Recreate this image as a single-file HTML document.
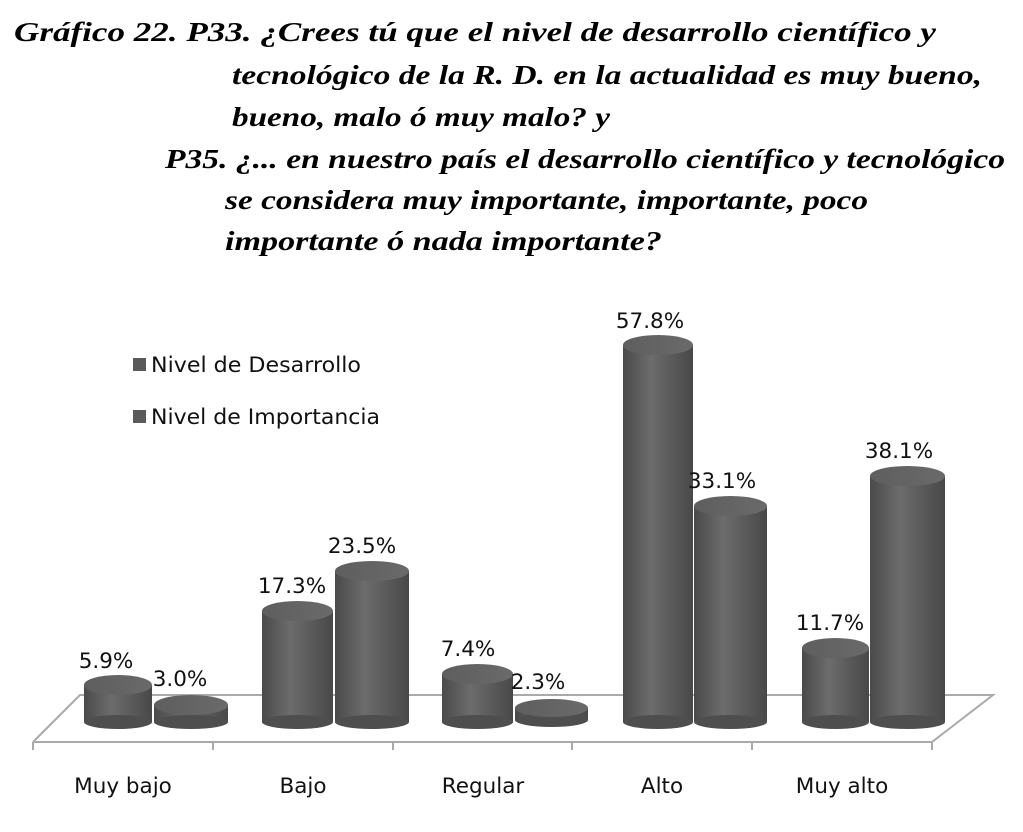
<!DOCTYPE html>
<html><head><meta charset="utf-8"><style>
html,body{margin:0;padding:0;background:#fff;}
svg{display:block;}
.t{font-family:"Liberation Serif",serif;font-weight:bold;font-style:italic;font-size:27px;fill:#000;}
.s{font-family:"DejaVu Sans","Liberation Sans",sans-serif;font-size:21.5px;fill:#111;}
</style></head><body>
<svg width="1023" height="832" viewBox="0 0 1023 832" xmlns="http://www.w3.org/2000/svg">
<defs>
<linearGradient id="g" x1="0" x2="1" y1="0" y2="0">
<stop offset="0" stop-color="#4a4a4a"/><stop offset="0.4" stop-color="#6c6c6c"/><stop offset="1" stop-color="#484848"/>
</linearGradient>
<linearGradient id="gt" x1="0" x2="1"><stop offset="0" stop-color="#5e5e5e"/><stop offset="1" stop-color="#6a6a6a"/></linearGradient>
</defs>
<text class="t" x="14" y="41" textLength="922" lengthAdjust="spacingAndGlyphs">Gráfico 22. P33. ¿Crees tú que el nivel de desarrollo científico y</text>
<text class="t" x="232" y="84" textLength="750" lengthAdjust="spacingAndGlyphs">tecnológico de la R. D. en la actualidad es muy bueno,</text>
<text class="t" x="232" y="126" textLength="378" lengthAdjust="spacingAndGlyphs">bueno, malo ó muy malo? y</text>
<text class="t" x="165" y="168" textLength="840" lengthAdjust="spacingAndGlyphs">P35. ¿... en nuestro país el desarrollo científico y tecnológico</text>
<text class="t" x="225" y="209" textLength="643" lengthAdjust="spacingAndGlyphs">se considera muy importante, importante, poco</text>
<text class="t" x="225" y="250" textLength="437" lengthAdjust="spacingAndGlyphs">importante ó nada importante?</text>

<g stroke="#aaa" stroke-width="2" fill="none">
<polyline points="33,742 80,695 993,695 932,742 33,742"/>
<line x1="33" y1="742" x2="33" y2="750"/><line x1="213" y1="742" x2="213" y2="750"/>
<line x1="393" y1="742" x2="393" y2="750"/><line x1="572" y1="742" x2="572" y2="750"/>
<line x1="752" y1="742" x2="752" y2="750"/><line x1="932" y1="742" x2="932" y2="750"/>
</g>

<rect x="133" y="358" width="13" height="13" fill="#5a5a5a"/>
<text class="s" x="151" y="372" textLength="210" lengthAdjust="spacingAndGlyphs">Nivel de Desarrollo</text>
<rect x="133" y="410" width="13" height="13" fill="#5a5a5a"/>
<text class="s" x="151" y="424" textLength="229" lengthAdjust="spacingAndGlyphs">Nivel de Importancia</text>

<g>
<g><rect x="84" y="685" width="68" height="37" fill="url(#g)"/><ellipse cx="118" cy="722" rx="34" ry="7" fill="#4e4e4e"/><ellipse cx="118" cy="685" rx="34" ry="10" fill="url(#gt)"/></g>
<g><rect x="154" y="705" width="74" height="17" fill="url(#g)"/><ellipse cx="191" cy="722" rx="37" ry="7" fill="#4e4e4e"/><ellipse cx="191" cy="705" rx="37" ry="10" fill="url(#gt)"/></g>
<g><rect x="262" y="611" width="71" height="111" fill="url(#g)"/><ellipse cx="297.5" cy="722" rx="35.5" ry="7" fill="#4e4e4e"/><ellipse cx="297.5" cy="611" rx="35.5" ry="10" fill="url(#gt)"/></g>
<g><rect x="335" y="571" width="74" height="151" fill="url(#g)"/><ellipse cx="372" cy="722" rx="37" ry="7" fill="#4e4e4e"/><ellipse cx="372" cy="571" rx="37" ry="10" fill="url(#gt)"/></g>
<g><rect x="442" y="674" width="71" height="48" fill="url(#g)"/><ellipse cx="477.5" cy="722" rx="35.5" ry="7" fill="#4e4e4e"/><ellipse cx="477.5" cy="674" rx="35.5" ry="10" fill="url(#gt)"/></g>
<g><rect x="515" y="708" width="73" height="12" fill="url(#g)"/><ellipse cx="551.5" cy="720" rx="36.5" ry="7" fill="#4e4e4e"/><ellipse cx="551.5" cy="708" rx="36.5" ry="9" fill="url(#gt)"/></g>
<g><rect x="623" y="345" width="70" height="377" fill="url(#g)"/><ellipse cx="658" cy="722" rx="35" ry="7" fill="#4e4e4e"/><ellipse cx="658" cy="345" rx="35" ry="10" fill="url(#gt)"/></g>
<g><rect x="694" y="506" width="73" height="216" fill="url(#g)"/><ellipse cx="730.5" cy="722" rx="36.5" ry="7" fill="#4e4e4e"/><ellipse cx="730.5" cy="506" rx="36.5" ry="10" fill="url(#gt)"/></g>
<g><rect x="802" y="648" width="67" height="74" fill="url(#g)"/><ellipse cx="835.5" cy="722" rx="33.5" ry="7" fill="#4e4e4e"/><ellipse cx="835.5" cy="648" rx="33.5" ry="10" fill="url(#gt)"/></g>
<g><rect x="870" y="476" width="75" height="246" fill="url(#g)"/><ellipse cx="907.5" cy="722" rx="37.5" ry="7" fill="#4e4e4e"/><ellipse cx="907.5" cy="476" rx="37.5" ry="10" fill="url(#gt)"/></g>
</g>

<text class="s" x="106" y="668" text-anchor="middle">5.9%</text>
<text class="s" x="180" y="686" text-anchor="middle">3.0%</text>
<text class="s" x="292" y="593" text-anchor="middle">17.3%</text>
<text class="s" x="362" y="553" text-anchor="middle">23.5%</text>
<text class="s" x="468" y="656" text-anchor="middle">7.4%</text>
<text class="s" x="538" y="689" text-anchor="middle">2.3%</text>
<text class="s" x="650" y="328" text-anchor="middle">57.8%</text>
<text class="s" x="722" y="488" text-anchor="middle">33.1%</text>
<text class="s" x="830" y="630" text-anchor="middle">11.7%</text>
<text class="s" x="899" y="458" text-anchor="middle">38.1%</text>

<text class="s" x="123" y="793" text-anchor="middle">Muy bajo</text>
<text class="s" x="303" y="793" text-anchor="middle">Bajo</text>
<text class="s" x="483" y="793" text-anchor="middle">Regular</text>
<text class="s" x="662" y="793" text-anchor="middle">Alto</text>
<text class="s" x="842" y="793" text-anchor="middle">Muy alto</text>
</svg>
</body></html>
